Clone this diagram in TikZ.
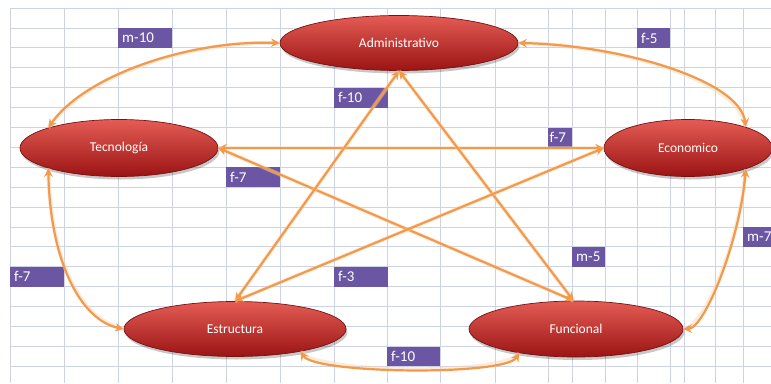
\documentclass[tikz,border=0pt]{standalone}
\usepackage{fontspec}
\setmainfont{Carlito}
\usetikzlibrary{arrows.meta,shapes.geometric}

\definecolor{gridc}{RGB}{206,211,228}
\definecolor{tagc}{RGB}{106,86,162}
\definecolor{linkc}{RGB}{243,154,74}
\definecolor{nodetop}{RGB}{228,92,84}
\definecolor{nodemid}{RGB}{206,40,36}
\definecolor{nodebot}{RGB}{155,20,20}
\definecolor{nodeedge}{RGB}{118,18,18}

\begin{document}
\begin{tikzpicture}[x=1pt,y=-1pt,
  gridline/.style={gridc, line width=0.8pt},
  entity/.style={ellipse, draw=nodeedge, line width=0.7pt,
    top color=nodetop, middle color=nodemid, bottom color=nodebot,
    text=white, inner sep=0pt, font=\fontsize{13.5}{15}\selectfont,
    preaction={fill=black, opacity=0.22, transform canvas={xshift=1.5pt,yshift=-3pt}}},
  tag/.style={fill=tagc, text=white, anchor=north west, inner xsep=4pt,
    inner ysep=0pt, minimum height=19.9pt, align=left,
    font=\fontsize{15}{16}\selectfont},
  link/.style={linkc, line width=2.2pt,
    {Stealth[length=8.5pt,width=8.5pt]}-{Stealth[length=8.5pt,width=8.5pt]},
    preaction={draw=linkc!45, line width=4pt, opacity=0.45, arrows=-}}]

\useasboundingbox (0,0) rectangle (771,383);
\fill[white] (0,0) rectangle (771,383);

% spreadsheet grid
\foreach \gx in {10,64,118,172,226,280,334,387,440,495,548,572,605,637,670,684,715,743}
  \draw[gridline] (\gx,8) -- (\gx,383);
\foreach \k in {0,...,18}
  \draw[gridline] (10,{8+19.9*\k}) -- (771,{8+19.9*\k});

% weighted labels in the cells
\node[tag, text width=46pt] (lab1) at (118,27.9) {m-10};
\node[tag, text width=46pt] (lab2) at (334,87.6) {f-10};
\node[tag, text width=46pt] (lab3) at (226,167.2) {f-7};
\node[tag, text width=25pt] (lab4) at (637,27.9) {f-5};
\node[tag, inner xsep=1.5pt, text width=21pt] (lab5) at (548,127.4) {f-7};
\node[tag, text width=46pt] (lab6) at (10,266.7) {f-7};
\node[tag, text width=46pt] (lab7) at (334,266.7) {f-3};
\node[tag, text width=45pt] (lab8) at (387,346.3) {f-10};
\node[tag, text width=25pt] (lab9) at (572,246.8) {m-5};
\node[tag, text width=32pt] (lab10) at (743,226.9) {m-7};

% entities
\node[entity, minimum width=238pt, minimum height=55pt] (adm) at (399,43) {Administrativo};
\node[entity, minimum width=198pt, minimum height=57pt] (tec) at (119,148) {Tecnología};
\node[entity, minimum width=168pt, minimum height=57pt] (eco) at (688,148) {Economico};
\node[entity, minimum width=222pt, minimum height=55pt] (est) at (235,329) {Estructura};
\node[entity, minimum width=214pt, minimum height=56pt] (fun) at (576,329) {Funcional};

% relations around the outside
\draw[link] (tec.164) .. controls (85,75) and (190,40) .. (adm.west);
\draw[link] (adm.east) .. controls (620,45) and (740,80) .. (eco.20);
\draw[link] (tec.196) .. controls (50,260) and (80,320) .. (est.west);
\draw[link] (eco.-20) .. controls (740,240) and (705,328) .. (fun.east);
\draw[link] (est.-19) .. controls (315,374) and (505,376) .. (fun.203);

% relations across the middle
\draw[link] (tec.east) -- (eco.west);
\draw[link] (tec.east) -- (fun.95);
\draw[link] (est.north) -- (adm.south);
\draw[link] (adm.south) -- (fun.95);
\draw[link] (est.north) -- (eco.west);
\end{tikzpicture}
\end{document}
